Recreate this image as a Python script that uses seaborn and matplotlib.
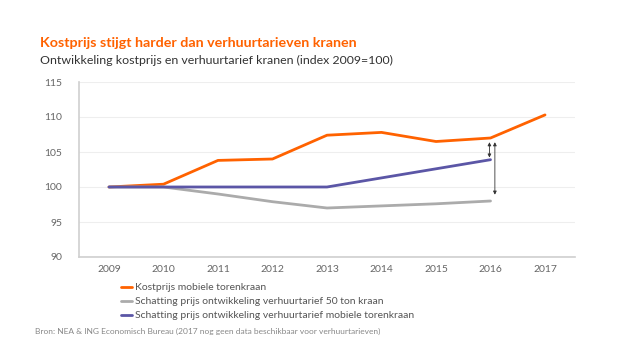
import matplotlib
matplotlib.use("Agg")
import matplotlib.pyplot as plt
import seaborn as sns
import pandas as pd

years = [2009, 2010, 2011, 2012, 2013, 2014, 2015, 2016, 2017]
kostprijs = [100, 100.4, 103.8, 104.0, 107.4, 107.8, 106.5, 107.0, 110.3]
years_est = [2009, 2010, 2011, 2012, 2013, 2014, 2015, 2016]
schatting_50 = [100, 100, 99.0, 97.9, 97.0, 97.3, 97.6, 98.0]
schatting_mob = [100, 100, 100, 100, 100, 101.3, 102.6, 103.9]

names = ["Kostprijs mobiele torenkraan",
         "Schatting prijs ontwikkeling verhuurtarief 50 ton kraan",
         "Schatting prijs ontwikkeling verhuurtarief mobiele torenkraan"]
colors = ["#FF6200", "#ABABAB", "#5B56A6"]

df = pd.concat([
    pd.DataFrame({"jaar": years, "index": kostprijs, "reeks": names[0]}),
    pd.DataFrame({"jaar": years_est, "index": schatting_50, "reeks": names[1]}),
    pd.DataFrame({"jaar": years_est, "index": schatting_mob, "reeks": names[2]}),
])

sns.set_theme(style="white")
plt.rcParams['font.family'] = ['Lato', 'DejaVu Sans']

fig = plt.figure(figsize=(6.2, 3.48), dpi=100)
ax = fig.add_axes([79/620, 1-257/348, (575-79)/620, (257-82)/348])

sns.lineplot(data=df, x="jaar", y="index", hue="reeks", palette=colors,
             hue_order=names, linewidth=2, ax=ax, legend=False, sort=False)

ax.set_xlim(2008.45, 2017.55)
ax.set_ylim(90, 115)
ax.set_yticks([90, 95, 100, 105, 110, 115])
ax.set_xticks(years)
ax.set_xticklabels([str(y) for y in years])
ax.set_xlabel("")
ax.set_ylabel("")
ax.yaxis.grid(True, color="#EEEEEE", linewidth=0.8)
ax.set_axisbelow(True)
for s in ["top", "right"]:
    ax.spines[s].set_visible(False)
for s in ["left", "bottom"]:
    ax.spines[s].set_color("#CFCFCF")
    ax.spines[s].set_linewidth(1.2)
ax.tick_params(axis="both", length=0, labelsize=7.5, colors="#666666")
ax.tick_params(axis="y", pad=12)
ax.tick_params(axis="x", pad=6)

# arrows at 2016
arrow_kw = dict(arrowstyle="<|-|>", color="#333333", lw=0.6,
                mutation_scale=5, shrinkA=0, shrinkB=0)
ax.annotate("", xy=(2015.98, 104.2), xytext=(2015.98, 106.4), arrowprops=arrow_kw)
ax.annotate("", xy=(2016.08, 98.9), xytext=(2016.08, 106.4), arrowprops=arrow_kw)

fig.text(40/620, 1-43/348, "Kostprijs stijgt harder dan verhuurtarieven kranen",
         color="#FF6200", fontsize=10.3, fontweight="bold", va="center")
fig.text(40/620, 1-60/348, "Ontwikkeling kostprijs en verhuurtarief kranen (index 2009=100)",
         color="#333333", fontsize=8.9, va="center")

from matplotlib.lines import Line2D
handles = [Line2D([0], [0], color=c, lw=2) for c in colors]
fig.legend(handles, names, loc="upper left", bbox_to_anchor=(121/620, 1-283/348),
           frameon=False, fontsize=7.5, handlelength=1.1, handletextpad=0.2,
           labelspacing=0.45, borderaxespad=0, borderpad=0, labelcolor="#555555")

fig.text(35/620, 1-331/348,
         "Bron: NEA & ING Economisch Bureau (2017 nog geen data beschikbaar voor verhuurtarieven)",
         color="#888888", fontsize=6, va="center")

fig.savefig("out.png", dpi=100, facecolor="white")
